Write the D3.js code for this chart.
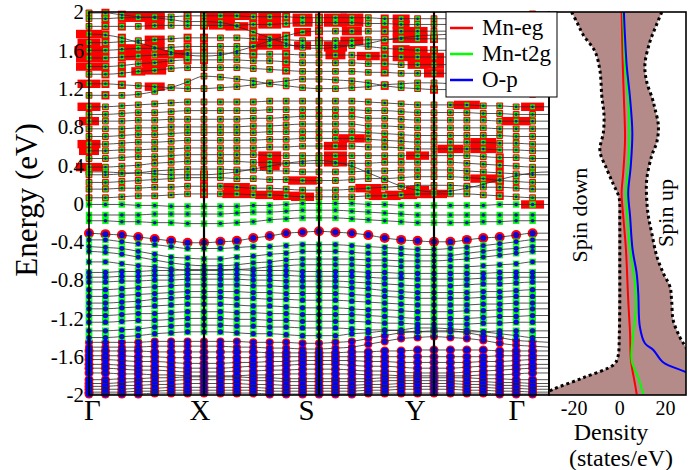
<!DOCTYPE html>
<html><head><meta charset="utf-8">
<script src="https://cdn.jsdelivr.net/npm/d3@7"></script>
<style>body{margin:0;background:#fff}svg{display:block}text{font-family:"Liberation Serif","Times New Roman",serif;fill:#000}</style>
</head><body><svg id="c" width="696" height="470"></svg>
<script>
// ---------------- data ----------------
const kPoints = ["Γ","X","S","Y","Γ"];
const kPointCols = [0,7,14,21,28];
const kLabelCols = [0.2,6.75,13.25,19.85,26.05];
const energyTicks = [-2,-1.6,-1.2,-0.8,-0.4,0,0.4,0.8,1.2,1.6,2];
const energyTickLabels = ["-2","-1.6","-1.2","-0.8","-0.4","0","0.4","0.8","1.2","1.6","2"];
const dosTicks = [-20,0,20];
const legendNames = ["Mn-eg","Mn-t2g","O-p"];

// band energies (eV) at 29 k-columns along Γ-X-S-Y-Γ
const bands = [
[-1.99,-1.99,-1.99,-1.99,-1.98,-1.98,-1.98,-1.98,-1.98,-1.98,-1.98,-1.99,-1.99,-1.99,-1.99,-1.99,-1.99,-1.98,-1.98,-1.98,-1.98,-1.98,-1.98,-1.98,-1.98,-1.99,-1.99,-1.99,-1.99],
[-1.97,-1.97,-1.97,-1.96,-1.96,-1.95,-1.95,-1.95,-1.95,-1.95,-1.95,-1.96,-1.96,-1.96,-1.96,-1.96,-1.96,-1.95,-1.95,-1.94,-1.94,-1.94,-1.94,-1.95,-1.95,-1.96,-1.96,-1.97,-1.97],
[-1.94,-1.94,-1.94,-1.93,-1.93,-1.92,-1.92,-1.92,-1.92,-1.92,-1.92,-1.93,-1.93,-1.93,-1.93,-1.93,-1.93,-1.92,-1.92,-1.91,-1.91,-1.91,-1.91,-1.92,-1.92,-1.93,-1.93,-1.94,-1.94],
[-1.91,-1.91,-1.90,-1.90,-1.89,-1.89,-1.88,-1.88,-1.88,-1.88,-1.89,-1.89,-1.90,-1.90,-1.90,-1.90,-1.90,-1.89,-1.89,-1.88,-1.88,-1.88,-1.88,-1.89,-1.89,-1.90,-1.90,-1.91,-1.91],
[-1.88,-1.88,-1.87,-1.86,-1.86,-1.85,-1.84,-1.84,-1.84,-1.84,-1.85,-1.85,-1.86,-1.86,-1.86,-1.86,-1.86,-1.86,-1.85,-1.85,-1.85,-1.85,-1.85,-1.86,-1.86,-1.87,-1.87,-1.88,-1.88],
[-1.84,-1.84,-1.83,-1.83,-1.82,-1.82,-1.81,-1.81,-1.81,-1.81,-1.82,-1.82,-1.83,-1.83,-1.83,-1.83,-1.83,-1.83,-1.82,-1.82,-1.82,-1.82,-1.82,-1.82,-1.83,-1.83,-1.84,-1.84,-1.84],
[-1.77,-1.77,-1.78,-1.78,-1.79,-1.79,-1.80,-1.80,-1.80,-1.80,-1.79,-1.79,-1.78,-1.78,-1.78,-1.78,-1.78,-1.79,-1.79,-1.80,-1.80,-1.80,-1.80,-1.80,-1.79,-1.79,-1.78,-1.77,-1.77],
[-1.72,-1.72,-1.73,-1.74,-1.74,-1.75,-1.76,-1.76,-1.76,-1.75,-1.75,-1.74,-1.74,-1.73,-1.73,-1.73,-1.74,-1.75,-1.75,-1.76,-1.77,-1.77,-1.77,-1.76,-1.75,-1.74,-1.73,-1.72,-1.72],
[-1.68,-1.68,-1.69,-1.70,-1.70,-1.71,-1.72,-1.72,-1.72,-1.71,-1.70,-1.70,-1.69,-1.68,-1.68,-1.68,-1.69,-1.70,-1.70,-1.71,-1.72,-1.72,-1.72,-1.71,-1.70,-1.70,-1.69,-1.68,-1.68],
[-1.63,-1.63,-1.64,-1.65,-1.65,-1.66,-1.67,-1.67,-1.67,-1.66,-1.66,-1.65,-1.65,-1.64,-1.64,-1.64,-1.64,-1.65,-1.65,-1.66,-1.66,-1.66,-1.66,-1.66,-1.65,-1.65,-1.64,-1.63,-1.63],
[-1.59,-1.59,-1.59,-1.60,-1.60,-1.61,-1.61,-1.61,-1.61,-1.61,-1.61,-1.60,-1.60,-1.60,-1.60,-1.60,-1.60,-1.60,-1.60,-1.60,-1.60,-1.60,-1.60,-1.60,-1.60,-1.59,-1.59,-1.59,-1.59],
[-1.54,-1.54,-1.54,-1.54,-1.55,-1.55,-1.55,-1.55,-1.55,-1.55,-1.55,-1.56,-1.56,-1.56,-1.56,-1.56,-1.55,-1.55,-1.54,-1.54,-1.53,-1.53,-1.53,-1.53,-1.53,-1.54,-1.54,-1.54,-1.54],
[-1.50,-1.50,-1.50,-1.50,-1.49,-1.49,-1.49,-1.49,-1.49,-1.50,-1.50,-1.51,-1.51,-1.52,-1.52,-1.51,-1.50,-1.47,-1.44,-1.41,-1.40,-1.39,-1.40,-1.41,-1.43,-1.46,-1.48,-1.49,-1.50],
[-1.45,-1.45,-1.45,-1.45,-1.44,-1.44,-1.44,-1.44,-1.44,-1.44,-1.45,-1.45,-1.45,-1.46,-1.46,-1.45,-1.44,-1.41,-1.38,-1.35,-1.34,-1.33,-1.33,-1.35,-1.38,-1.40,-1.43,-1.44,-1.45],
[-1.40,-1.40,-1.39,-1.38,-1.36,-1.35,-1.34,-1.34,-1.34,-1.35,-1.36,-1.36,-1.37,-1.38,-1.38,-1.38,-1.36,-1.35,-1.33,-1.32,-1.30,-1.30,-1.31,-1.32,-1.34,-1.36,-1.38,-1.40,-1.40],
[-1.33,-1.33,-1.32,-1.31,-1.29,-1.28,-1.27,-1.27,-1.27,-1.28,-1.28,-1.29,-1.29,-1.30,-1.30,-1.30,-1.31,-1.32,-1.32,-1.33,-1.34,-1.34,-1.34,-1.34,-1.34,-1.33,-1.33,-1.33,-1.33],
[-1.24,-1.24,-1.23,-1.22,-1.22,-1.21,-1.20,-1.20,-1.20,-1.21,-1.21,-1.22,-1.22,-1.23,-1.23,-1.23,-1.23,-1.24,-1.25,-1.25,-1.26,-1.26,-1.26,-1.26,-1.25,-1.25,-1.24,-1.24,-1.24],
[-1.17,-1.17,-1.16,-1.15,-1.15,-1.14,-1.13,-1.13,-1.13,-1.14,-1.14,-1.15,-1.15,-1.16,-1.16,-1.16,-1.16,-1.17,-1.18,-1.19,-1.20,-1.20,-1.20,-1.20,-1.19,-1.18,-1.18,-1.17,-1.17],
[-1.10,-1.10,-1.09,-1.08,-1.07,-1.06,-1.05,-1.05,-1.05,-1.06,-1.07,-1.07,-1.08,-1.09,-1.09,-1.09,-1.10,-1.11,-1.11,-1.12,-1.13,-1.13,-1.13,-1.12,-1.12,-1.11,-1.11,-1.10,-1.10],
[-1.04,-1.04,-1.03,-1.02,-1.00,-0.99,-0.98,-0.98,-0.98,-0.99,-0.99,-1.00,-1.00,-1.01,-1.01,-1.01,-1.02,-1.03,-1.04,-1.05,-1.06,-1.06,-1.06,-1.06,-1.05,-1.05,-1.04,-1.04,-1.04],
[-0.97,-0.97,-0.96,-0.95,-0.94,-0.93,-0.92,-0.92,-0.92,-0.92,-0.93,-0.93,-0.94,-0.94,-0.94,-0.94,-0.95,-0.96,-0.97,-0.98,-0.99,-0.99,-0.99,-0.99,-0.98,-0.98,-0.97,-0.97,-0.97],
[-0.90,-0.90,-0.89,-0.88,-0.87,-0.86,-0.85,-0.85,-0.85,-0.85,-0.86,-0.86,-0.87,-0.87,-0.87,-0.87,-0.88,-0.89,-0.91,-0.92,-0.93,-0.93,-0.93,-0.93,-0.92,-0.92,-0.91,-0.90,-0.90],
[-0.82,-0.82,-0.81,-0.81,-0.80,-0.80,-0.79,-0.79,-0.79,-0.79,-0.80,-0.80,-0.81,-0.81,-0.81,-0.81,-0.82,-0.83,-0.84,-0.85,-0.86,-0.86,-0.86,-0.85,-0.84,-0.84,-0.83,-0.82,-0.82],
[-0.77,-0.77,-0.76,-0.76,-0.75,-0.75,-0.74,-0.74,-0.74,-0.74,-0.75,-0.75,-0.75,-0.76,-0.76,-0.76,-0.76,-0.77,-0.78,-0.78,-0.79,-0.79,-0.79,-0.79,-0.78,-0.78,-0.77,-0.77,-0.77],
[-0.72,-0.72,-0.71,-0.71,-0.70,-0.70,-0.69,-0.69,-0.69,-0.69,-0.70,-0.70,-0.70,-0.71,-0.71,-0.71,-0.71,-0.72,-0.72,-0.73,-0.73,-0.73,-0.73,-0.73,-0.73,-0.72,-0.72,-0.72,-0.72],
[-0.61,-0.61,-0.63,-0.65,-0.66,-0.68,-0.70,-0.70,-0.70,-0.69,-0.68,-0.66,-0.65,-0.64,-0.64,-0.64,-0.64,-0.65,-0.65,-0.66,-0.66,-0.66,-0.66,-0.66,-0.65,-0.64,-0.63,-0.61,-0.61],
[-0.50,-0.51,-0.53,-0.56,-0.59,-0.62,-0.64,-0.65,-0.65,-0.64,-0.62,-0.61,-0.59,-0.58,-0.58,-0.58,-0.58,-0.59,-0.59,-0.60,-0.60,-0.60,-0.59,-0.58,-0.56,-0.54,-0.52,-0.50,-0.50],
[-0.45,-0.46,-0.47,-0.50,-0.53,-0.56,-0.57,-0.58,-0.58,-0.56,-0.55,-0.53,-0.52,-0.50,-0.50,-0.50,-0.51,-0.52,-0.52,-0.53,-0.54,-0.54,-0.54,-0.52,-0.50,-0.48,-0.47,-0.45,-0.45],
[-0.38,-0.38,-0.40,-0.42,-0.43,-0.45,-0.47,-0.47,-0.47,-0.46,-0.45,-0.45,-0.44,-0.43,-0.43,-0.43,-0.44,-0.45,-0.46,-0.47,-0.48,-0.48,-0.47,-0.46,-0.44,-0.42,-0.40,-0.38,-0.38],
[-0.31,-0.32,-0.33,-0.35,-0.37,-0.39,-0.41,-0.41,-0.40,-0.39,-0.36,-0.34,-0.31,-0.30,-0.29,-0.30,-0.31,-0.33,-0.36,-0.38,-0.39,-0.40,-0.40,-0.38,-0.36,-0.35,-0.33,-0.31,-0.31],
[-0.18,-0.18,-0.19,-0.19,-0.20,-0.20,-0.21,-0.21,-0.21,-0.20,-0.19,-0.17,-0.16,-0.15,-0.15,-0.15,-0.16,-0.17,-0.18,-0.19,-0.20,-0.20,-0.20,-0.20,-0.19,-0.19,-0.18,-0.18,-0.18],
[-0.12,-0.12,-0.12,-0.12,-0.11,-0.11,-0.11,-0.11,-0.11,-0.10,-0.09,-0.09,-0.08,-0.07,-0.07,-0.07,-0.08,-0.09,-0.10,-0.11,-0.12,-0.12,-0.12,-0.12,-0.12,-0.12,-0.12,-0.12,-0.12],
[-0.01,-0.01,-0.01,-0.02,-0.02,-0.03,-0.03,-0.03,-0.03,-0.03,-0.02,-0.02,-0.01,0.00,0.00,0.00,0.00,-0.01,-0.01,-0.02,-0.02,-0.02,-0.02,-0.02,-0.02,-0.01,-0.01,-0.01,-0.01],
[0.06,0.06,0.07,0.08,0.08,0.09,0.10,0.10,0.10,0.10,0.09,0.09,0.08,0.07,0.07,0.07,0.07,0.08,0.08,0.09,0.10,0.10,0.10,0.10,0.09,0.08,0.07,0.06,0.06],
[0.15,0.15,0.16,0.16,0.17,0.17,0.18,0.18,0.18,0.17,0.16,0.16,0.15,0.14,0.14,0.14,0.15,0.16,0.17,0.18,0.19,0.19,0.19,0.18,0.17,0.17,0.16,0.15,0.15],
[0.22,0.22,0.23,0.24,0.25,0.26,0.27,0.27,0.27,0.26,0.26,0.25,0.25,0.24,0.24,0.24,0.25,0.26,0.26,0.27,0.28,0.28,0.28,0.27,0.26,0.24,0.23,0.22,0.22],
[0.30,0.30,0.31,0.32,0.34,0.35,0.36,0.36,0.36,0.35,0.35,0.34,0.34,0.33,0.33,0.33,0.33,0.34,0.34,0.35,0.35,0.35,0.35,0.34,0.33,0.32,0.31,0.30,0.30],
[0.38,0.38,0.39,0.40,0.42,0.43,0.44,0.44,0.44,0.44,0.43,0.43,0.42,0.42,0.42,0.42,0.42,0.42,0.43,0.43,0.43,0.43,0.43,0.42,0.41,0.40,0.39,0.38,0.38],
[0.47,0.47,0.48,0.49,0.49,0.50,0.51,0.51,0.51,0.51,0.51,0.50,0.50,0.50,0.50,0.50,0.50,0.50,0.50,0.50,0.50,0.50,0.50,0.50,0.49,0.48,0.48,0.47,0.47],
[0.55,0.55,0.56,0.56,0.57,0.57,0.58,0.58,0.58,0.58,0.58,0.59,0.59,0.60,0.60,0.60,0.60,0.59,0.59,0.58,0.57,0.57,0.57,0.57,0.57,0.56,0.56,0.55,0.55],
[0.62,0.62,0.63,0.64,0.64,0.65,0.66,0.66,0.66,0.66,0.66,0.67,0.67,0.68,0.68,0.68,0.68,0.67,0.66,0.65,0.64,0.64,0.64,0.64,0.64,0.63,0.63,0.62,0.62],
[0.70,0.70,0.71,0.72,0.72,0.73,0.74,0.74,0.74,0.74,0.74,0.75,0.75,0.75,0.75,0.75,0.75,0.74,0.73,0.72,0.71,0.71,0.71,0.71,0.71,0.71,0.70,0.70,0.70],
[0.78,0.78,0.78,0.79,0.79,0.80,0.80,0.80,0.80,0.80,0.81,0.81,0.82,0.83,0.83,0.83,0.83,0.81,0.81,0.80,0.79,0.79,0.79,0.79,0.79,0.78,0.78,0.78,0.78],
[0.86,0.86,0.86,0.87,0.87,0.88,0.88,0.88,0.88,0.88,0.89,0.89,0.90,0.91,0.91,0.91,0.91,0.89,0.89,0.88,0.87,0.87,0.87,0.87,0.87,0.86,0.86,0.86,0.86],
[0.93,0.93,0.94,0.95,0.95,0.96,0.97,0.97,0.97,0.97,0.97,0.98,0.98,0.98,0.98,0.98,0.98,0.97,0.97,0.96,0.95,0.95,0.95,0.95,0.94,0.94,0.93,0.93,0.93],
[1.01,1.01,1.02,1.03,1.04,1.05,1.06,1.06,1.06,1.06,1.06,1.07,1.07,1.07,1.07,1.07,1.07,1.06,1.05,1.04,1.03,1.03,1.03,1.03,1.02,1.02,1.01,1.01,1.01],
[1.13,1.13,1.13,1.14,1.17,1.21,1.27,1.33,1.32,1.30,1.28,1.25,1.23,1.21,1.20,1.20,1.21,1.22,1.24,1.25,1.26,1.26,1.25,1.24,1.21,1.18,1.16,1.14,1.13],
[1.25,1.25,1.24,1.23,1.22,1.21,1.20,1.20,1.21,1.22,1.24,1.26,1.28,1.30,1.30,1.29,1.28,1.26,1.23,1.21,1.20,1.19,1.19,1.20,1.21,1.23,1.24,1.25,1.25],
[1.35,1.35,1.36,1.38,1.39,1.41,1.42,1.42,1.42,1.42,1.41,1.40,1.39,1.38,1.38,1.38,1.38,1.37,1.37,1.36,1.36,1.36,1.36,1.36,1.36,1.35,1.35,1.35,1.35],
[1.43,1.43,1.44,1.46,1.47,1.49,1.50,1.50,1.50,1.50,1.49,1.49,1.48,1.47,1.47,1.47,1.47,1.46,1.46,1.45,1.45,1.45,1.45,1.45,1.44,1.44,1.43,1.43,1.43],
[1.52,1.52,1.53,1.54,1.55,1.56,1.57,1.57,1.57,1.57,1.56,1.56,1.56,1.55,1.55,1.55,1.55,1.54,1.54,1.53,1.53,1.53,1.53,1.53,1.53,1.52,1.52,1.52,1.52],
[1.60,1.60,1.61,1.62,1.62,1.63,1.64,1.64,1.64,1.64,1.64,1.65,1.65,1.65,1.65,1.65,1.65,1.64,1.62,1.61,1.60,1.60,1.60,1.60,1.60,1.60,1.60,1.60,1.60],
[1.77,1.76,1.73,1.68,1.63,1.58,1.55,1.54,1.55,1.59,1.64,1.70,1.75,1.79,1.80,1.80,1.80,1.80,1.80,1.80,1.80,1.80,1.80,1.80,1.79,1.78,1.78,1.77,1.77],
[1.68,1.68,1.69,1.70,1.71,1.72,1.73,1.73,1.73,1.73,1.72,1.71,1.71,1.70,1.70,1.70,1.70,1.71,1.71,1.72,1.72,1.72,1.72,1.72,1.71,1.70,1.69,1.68,1.68],
[1.85,1.85,1.85,1.85,1.86,1.86,1.86,1.86,1.86,1.86,1.87,1.87,1.88,1.89,1.89,1.89,1.89,1.88,1.88,1.87,1.87,1.87,1.87,1.87,1.86,1.86,1.85,1.85,1.85],
[1.93,1.93,1.94,1.94,1.95,1.95,1.96,1.96,1.96,1.96,1.95,1.95,1.95,1.94,1.94,1.94,1.94,1.94,1.93,1.93,1.93,1.93,1.93,1.93,1.93,1.93,1.93,1.93,1.93],
[1.99,1.99,1.97,1.95,1.94,1.92,1.90,1.90,1.89,1.85,1.79,1.73,1.67,1.63,1.62,1.63,1.65,1.67,1.71,1.73,1.75,1.76,1.77,1.80,1.85,1.90,1.95,1.98,1.99],
[0.33,0.33,0.32,0.32,0.31,0.30,0.30,0.30,0.31,0.33,0.36,0.39,0.42,0.44,0.45,0.43,0.39,0.32,0.25,0.18,0.14,0.12,0.13,0.16,0.20,0.25,0.29,0.32,0.33]
];

// orbital weights per band (0..1)
const egWeight  = [.9,.9,.9,.9,.9,.9,.9,.9,.9,.9,.9,.9, .8,.8, .5,.5,.5,.5,.5,.5,.5,.5,.5,.5,.5, .55,.55,.55,.55, 1, .3,.3,.3,
  .68,.68,.68,.68,.68,.68,.68,.68,.68,.68,.68,.68,.68,.68,.68,.68,.68,.68,.68,.68,.68,.68,.68,.68,.68];
const t2gWeight = [.35,.35,.35,.35,.35,.35,.35,.35,.35,.35,.35,.35, .3,.3, .85,.85,.85,.85,.85,.85,.85,.85,.85,.85,.85, .8,.8,.8,.8, .3, .8,.8,.8,
  .6,.6,.6,.6,.6,.6,.6,.6,.6,.6,.6,.6,.6,.6,.6,.6,.6,.6,.6,.6,.6,.6,.6,.6,.6];
const opWeight  = [.95,.95,.95,.95,.95,.95,.95,.95,.95,.95,.95,.95, .8,.8, .75,.75,.75,.75,.75,.75,.75,.75,.75,.75,.75, .7,.7,.7,.7, .85, .5,.5,.5,
  .35,.35,.35,.35,.35,.35,.35,.35,.35,.35,.35,.35,.35,.35,.35,.35,.35,.35,.35,.35,.35,.35,.35,.35,.35];

// strong Mn-eg character: [band index, k-column, weight]
const egSpots = [
[52,0,.6],[53,0,.5],[51,0,.7],[50,0,.6],[49,0,.6],[47,0,.5],[45,0,.5],[43,0,.4],[40,0,.5],[39,0,.4],[37,0,.6],
[46,1,0],[47,1,0],[48,1,0],[49,1,0],[50,1,0],[51,1,0],[53,1,0],[52,1,0],[54,1,0],[55,1,0],[56,1,0],
[47,2,0],[48,2,0],[49,2,0],[50,2,0],[51,2,0],[53,2,0],[52,2,0],[54,2,0],[55,2,0],[56,2,0],
[55,3,.7],[56,3,.7],[51,3,.6],[50,3,.6],[48,3,.2],
[52,4,.4],[54,4,.4],[55,4,.4],[56,4,.4],[53,4,.4],[49,4,.6],[48,4,.5],[47,4,.4],
[50,5,.7],
[49,6,0],[50,6,0],[51,6,0],[52,6,0],[53,6,0],[54,6,0],[55,6,0],[56,6,0],
[49,7,0],[50,7,0],[51,7,0],[53,7,0],[54,7,0],[55,7,0],[56,7,0],[33,7,0],[34,7,0],[35,7,0],[57,7,0],
[55,8,.7],[54,8,.5],[56,8,.7],
[55,9,.6],[56,9,.5],[34,9,.6],[33,9,.7],
[50,10,0],[51,10,0],[53,10,0],[52,10,0],[54,10,0],[55,10,0],[56,10,0],
[52,11,.5],[54,11,.5],[55,11,.5],[56,11,.5],[51,11,.6],[38,11,.5],[37,11,.5],[57,11,.4],[33,11,.7],
[48,12,0],[49,12,0],[50,12,0],[51,12,0],[52,12,0],[53,12,0],[54,12,0],[55,12,0],[33,12,.6],
[54,13,.4],[55,13,.4],[52,13,.3],[51,13,.3],[35,13,.7],[33,13,.5],
[52,14,0],[53,14,0],[54,14,0],[55,14,0],
[54,15,.5],[55,15,.5],[56,15,.5],[51,15,.5],[50,15,.4],[39,15,.5],[38,15,.5],[57,15,.5],
[54,16,.5],[55,16,.5],[52,16,.4],[53,16,.5],[40,16,.6],
[50,17,.5],[34,17,.6],
[47,18,0],[48,18,0],[49,18,0],[50,18,0],[51,18,0],[53,18,0],[52,18,0],[54,18,0],[55,18,0],[33,18,.8],
[50,19,.3],[51,19,.3],[53,19,.3],[52,19,.3],[54,19,.3],[55,19,.3],[33,19,.8],
[49,20,.4],[50,20,.4],[51,20,.4],[53,20,.4],[52,20,.4],[38,20,.5],[57,20,.5],[33,20,.8],
[47,21,0],[48,21,.4],[49,21,.4],[50,21,.4],[51,21,0],[53,21,0],[33,21,.6],
[39,22,.6],[45,23,.6],[40,24,.6],[39,24,.6],[35,24,.6],
[33,25,0],[34,25,0],[35,25,0],[36,25,0],[57,25,0],[37,25,0],[38,25,0],
[43,26,.7],[45,27,.5],[32,27,.5]
];

// DOS (states/eV) vs energy (eV): [E, DOS]
const spinUp = [[2.0,18.4],[1.85,15.8],[1.69,13.2],[1.45,11.0],[1.27,11.8],[1.1,14.2],[0.99,15.4],[0.81,16.9],[0.64,16.2],[0.5,14.0],[0.25,11.8],[0.04,11.8],[-0.13,12.5],[-0.31,14.0],[-0.55,16.2],[-0.73,19.1],[-0.87,22.0],[-1.01,22.7],[-1.22,23.4],[-1.4,26.4],[-1.5,28.9],[-1.7,34],[-2.0,40]];
const spinDown = [[2.0,-21.1],[1.88,-18.5],[1.76,-16.0],[1.59,-10.9],[1.39,-8.7],[1.13,-7.9],[0.92,-6.9],[0.74,-7.2],[0.55,-8.7],[0.36,-5.7],[0.2,-2.8],[0.06,-0.3],[-0.2,0],[-0.6,0],[-1.0,0],[-1.36,-0.2],[-1.6,-0.8],[-1.68,-2.5],[-1.82,-16.0],[-1.94,-29.1],[-2.0,-34]];
const pdosEg = [[2.0,0.8],[1.45,1.3],[1.1,1.8],[0.67,2.3],[0.32,1.5],[0.11,0.8],[-0.13,1.5],[-0.48,2.7],[-1.01,3.7],[-1.36,4.5],[-1.64,4.9],[-1.89,6.7],[-1.99,7.4]];
const pdosT2g = [[2.0,1.5],[1.45,2.3],[1.1,3.7],[0.74,4.2],[0.39,3.7],[0.11,2.7],[-0.13,3.3],[-0.48,4.5],[-0.84,6.7],[-1.08,7.1],[-1.36,5.9],[-1.64,5.2],[-1.82,8.1],[-1.99,10.3]];
const pdosOp = [[2.0,1.8],[1.45,3.0],[1.1,4.5],[0.74,5.5],[0.39,4.8],[0.11,3.7],[-0.13,4.5],[-0.48,5.6],[-0.73,7.4],[-0.94,8.1],[-1.29,8.8],[-1.46,11.0],[-1.53,14.7],[-1.66,19.1],[-1.76,28.9],[-1.85,36]];

// ---------------- drawing ----------------
const svg = d3.select("#c");
const L = 89, R = 549, T = 12, B = 395, DR = 686;
const x = d3.scaleLinear().domain([0, 28]).range([L, R]);
const y = d3.scaleLinear().domain([-2, 2]).range([B, T]);
const xd = d3.scaleLinear().domain([-31, 29]).range([R, DR]);
const RED = "#ff0000", GREEN = "#00ff00", BLUE = "#0000ff";

// fat-band markers (columns 0..27)
const pts = [];
bands.forEach((b, bi) => b.forEach((e, c) => { if (c < 28) pts.push({bi, c, e}); }));
const gM = svg.append("g");
gM.selectAll("rect.eg").data(pts).join("rect").attr("class","eg")
  .attr("x", d => x(d.c) - 5*egWeight[d.bi]).attr("y", d => y(d.e) - 5*egWeight[d.bi])
  .attr("width", d => 10*egWeight[d.bi]).attr("height", d => 10*egWeight[d.bi])
  .attr("rx", d => d.e < -0.2 ? 5*egWeight[d.bi] : 0.8).attr("fill", RED);
gM.selectAll("rect.spot").data(egSpots).join("rect").attr("class","spot")
  .attr("x", d => x(d[1]) - (8 + 30*d[2]) / 2).attr("y", d => y(bands[d[0]][d[1]]) - 4.2)
  .attr("width", d => 8 + 30*d[2]).attr("height", 8.4).attr("fill", RED);
gM.selectAll("rect.t2g").data(pts).join("rect").attr("class","t2g")
  .attr("x", d => x(d.c) - 4*t2gWeight[d.bi]).attr("y", d => y(d.e) - 4*t2gWeight[d.bi])
  .attr("width", d => 8*t2gWeight[d.bi]).attr("height", d => 8*t2gWeight[d.bi]).attr("fill", GREEN);
gM.selectAll("circle.op").data(pts).join("circle").attr("class","op")
  .attr("cx", d => x(d.c)).attr("cy", d => y(d.e)).attr("r", d => 3.5*opWeight[d.bi]).attr("fill", BLUE);

// band lines
const bl = d3.line().x((d, i) => x(i)).y(d => y(d)).curve(d3.curveMonotoneX);
svg.append("g").selectAll("path").data(bands).join("path")
  .attr("d", bl).attr("fill","none").attr("stroke","#2a2a2a").attr("stroke-width",0.9).attr("stroke-opacity",0.9);

// high-symmetry lines
svg.append("g").selectAll("line").data(kPointCols.slice(1, 4)).join("line")
  .attr("x1", d => x(d)).attr("x2", d => x(d)).attr("y1", T).attr("y2", B)
  .attr("stroke","#000").attr("stroke-width",2.2);

// band frame
svg.append("rect").attr("x",L).attr("y",T).attr("width",R-L).attr("height",B-T)
  .attr("fill","none").attr("stroke","#000").attr("stroke-width",1.6);

// y tick labels
svg.append("g").selectAll("text").data(energyTicks).join("text")
  .attr("x", 84).attr("y", d => y(d)).attr("dy","0.35em").attr("text-anchor","end")
  .attr("font-size", 21).text((d, i) => energyTickLabels[i]);
// k labels
svg.append("g").selectAll("text").data(kPoints).join("text")
  .attr("x", (d, i) => x(kLabelCols[i])).attr("y", 420).attr("text-anchor","middle")
  .attr("font-size", 29).text(d => d);
// y label
svg.append("text").attr("transform","translate(37,200) rotate(-90)").attr("text-anchor","middle")
  .attr("font-size", 31).text("Energy (eV)");

// ---------- DOS panel ----------
svg.append("clipPath").attr("id","dclip").append("rect")
  .attr("x",R).attr("y",T).attr("width",DR-R).attr("height",B-T);
const gD = svg.append("g").attr("clip-path","url(#dclip)");
const FILL = "#b58b89";
const aUp = d3.area().y(d => y(d[0])).x0(xd(-0.6)).x1(d => xd(d[1])).curve(d3.curveCatmullRom);
const aDn = d3.area().y(d => y(d[0])).x0(xd(0.6)).x1(d => xd(d[1])).curve(d3.curveCatmullRom);
gD.append("path").attr("d", aUp(spinUp)).attr("fill", FILL);
gD.append("path").attr("d", aDn(spinDown)).attr("fill", FILL);
const dl = d3.line().x(d => xd(d[1])).y(d => y(d[0])).curve(d3.curveCatmullRom);
[spinUp, spinDown].forEach(s => gD.append("path").attr("d", dl(s)).attr("fill","none")
  .attr("stroke","#000").attr("stroke-width",3).attr("stroke-dasharray","3,3"));
[[pdosEg, RED], [pdosT2g, GREEN], [pdosOp, BLUE]].forEach(([s, c]) =>
  gD.append("path").attr("d", dl(s)).attr("fill","none").attr("stroke", c).attr("stroke-width", 2));
svg.append("rect").attr("x",R).attr("y",T).attr("width",DR-R).attr("height",B-T)
  .attr("fill","none").attr("stroke","#000").attr("stroke-width",1.6);

svg.append("text").attr("transform","translate(587,215) rotate(-90)").attr("text-anchor","middle")
  .attr("font-size",22).text("Spin down");
svg.append("text").attr("transform","translate(673,213) rotate(-90)").attr("text-anchor","middle")
  .attr("font-size",22).text("Spin up");

svg.append("g").selectAll("text").data(dosTicks).join("text")
  .attr("x", d => xd(d)).attr("y", 415).attr("text-anchor","middle").attr("font-size",20).text(d => d);
svg.append("text").attr("x",611).attr("y",440).attr("text-anchor","middle").attr("font-size",24).text("Density");
svg.append("text").attr("x",621).attr("y",466).attr("text-anchor","middle").attr("font-size",24).text("(states/eV)");

// ---------- legend ----------
const gL = svg.append("g");
gL.append("rect").attr("x",446).attr("y",12).attr("width",111).attr("height",85)
  .attr("fill","#fff").attr("stroke","#000").attr("stroke-width",1);
[RED, GREEN, BLUE].forEach((c, i) => {
  gL.append("line").attr("x1",450).attr("x2",473).attr("y1",28+26*i).attr("y2",28+26*i)
    .attr("stroke",c).attr("stroke-width",2.5);
  gL.append("text").attr("x",482).attr("y",35+26*i).attr("font-size",23).text(legendNames[i]);
});
</script></body></html>
